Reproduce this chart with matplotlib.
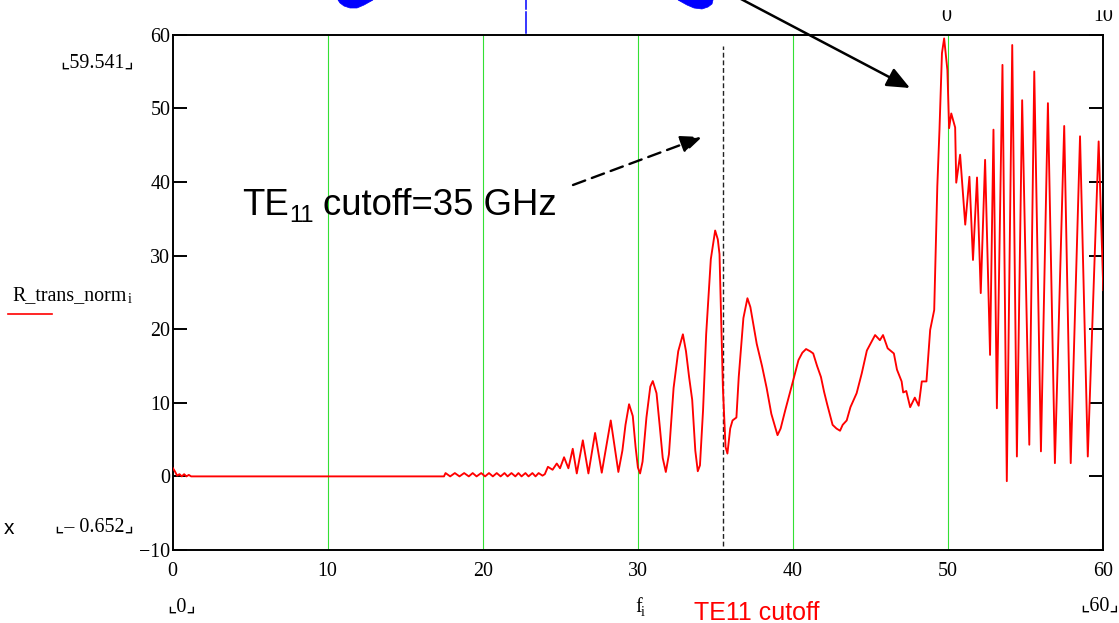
import matplotlib
matplotlib.use("Agg")
import matplotlib.pyplot as plt
from matplotlib.lines import Line2D
from matplotlib.patches import Rectangle, Polygon

W, H = 1119, 623

# frequency (GHz) and normalised transmission
freq = [0.0, 0.15, 0.3, 0.45, 0.6, 0.75, 0.9, 1.05, 1.2, 17.5,
        17.6, 17.9, 18.2, 18.5, 18.8, 19.1, 19.35, 19.6, 19.9, 20.15,
        20.4, 20.65, 20.9, 21.15, 21.4, 21.6, 21.85, 22.1, 22.3, 22.5,
        22.75, 22.95, 23.2, 23.4, 23.6, 23.85,
        24.0, 24.2, 24.5, 24.77, 24.98, 25.24, 25.52, 25.8, 26.06, 26.45,
        26.81, 27.24, 27.67, 28.25, 28.74, 29.0, 29.2, 29.43, 29.67, 29.85,
        30.0, 30.14, 30.3, 30.55, 30.8, 30.96, 31.2, 31.4, 31.6, 31.8,
        32.0, 32.3, 32.6, 32.9, 33.1, 33.3, 33.5, 33.7, 33.86, 34.0,
        34.2, 34.4, 34.7, 34.98, 35.15, 35.26, 35.48, 35.65, 35.77, 35.95,
        36.1, 36.35, 36.5, 36.8, 37.06, 37.25, 37.66, 38.0, 38.3, 38.6,
        39.0, 39.2, 39.5, 39.98, 40.35, 40.6, 40.84, 41.1, 41.3, 41.55,
        41.8, 42.0, 42.2, 42.55, 42.8, 43.03, 43.2, 43.46, 43.7, 44.1,
        44.43, 44.76, 45.29, 45.6, 45.8, 46.1, 46.5, 46.7, 47.0, 47.1,
        47.3, 47.55, 47.85, 48.1, 48.3, 48.6, 48.84, 49.1, 49.3, 49.44,
        49.6, 49.74, 49.95, 50.06, 50.2, 50.45, 50.52, 50.77, 51.1, 51.37,
        51.6, 51.86, 52.1, 52.38, 52.7, 52.92, 53.14, 53.5, 53.78, 54.13,
        54.43, 54.77, 55.23, 55.55, 55.98, 56.43, 56.88, 57.48, 57.9, 58.5,
        59.0, 59.7, 60.0]
r_trans = [1.2, 0.7, 0.1, 0.3, 0.0, 0.3, 0.0, 0.2, 0.0, 0.0,
           0.45, 0.0, 0.45, 0.0, 0.45, 0.0, 0.45, 0.0, 0.45, 0.0,
           0.45, 0.0, 0.45, 0.0, 0.45, 0.0, 0.45, 0.0, 0.45, 0.0,
           0.45, 0.0, 0.45, 0.0, 0.45, 0.1,
           0.3, 1.3, 0.9, 1.75, 1.1, 2.6, 1.1, 3.75, 0.4, 4.9,
           0.4, 5.9, 0.5, 7.6, 0.6, 3.5, 7.0, 9.8, 8.2, 4.0,
           1.2, 0.4, 2.0, 8.0, 12.2, 12.95, 11.3, 7.0, 2.5, 0.6,
           3.0, 12.0, 17.0, 19.3, 17.0, 13.5, 10.4, 3.5, 0.7, 1.5,
           9.0, 19.3, 29.5, 33.4, 32.2, 30.2, 12.0, 4.0, 3.1, 6.5,
           7.6, 8.0, 13.5, 21.5, 24.2, 23.0, 18.0, 15.0, 12.0, 8.5,
           5.6, 6.5, 9.0, 12.8, 15.8, 16.8, 17.3, 17.0, 16.7, 15.0,
           13.5, 11.5, 9.8, 7.0, 6.5, 6.2, 7.0, 7.6, 9.4, 11.3,
           14.0, 17.1, 19.2, 18.5, 19.2, 17.4, 16.7, 14.5, 12.9, 11.4,
           11.6, 9.4, 10.7, 9.6, 12.9, 12.9, 19.9, 22.6, 39.4, 47.1,
           57.5, 59.5, 55.2, 47.3, 49.3, 47.4, 39.9, 43.7, 34.2, 40.7,
           29.4, 40.6, 24.9, 43.0, 16.5, 47.1, 9.25, 55.9, -0.65, 58.6,
           2.7, 51.1, 4.3, 55.0, 3.4, 50.7, 1.8, 47.6, 1.8, 46.2,
           2.7, 45.5, 25.3]

x_ticks = [0, 10, 20, 30, 40, 50, 60]
y_ticks = [-10, 0, 10, 20, 30, 40, 50, 60]
x_grid = [10, 20, 30, 40, 50]
te11_x = 35.5
trace_name = "R_trans_norm"
y_hi_label = "\u231e59.541\u231f"
y_lo_label = "\u231e\u2013 0.652\u231f"
x_lo_label = "\u231e0\u231f"
x_hi_label = "\u231e60\u231f"

SERIF = ["Liberation Serif", "DejaVu Sans"]
SANS = ["Liberation Sans", "DejaVu Sans"]


def fp(px, py):
    # picture pixels (from top-left) -> figure fraction
    return px / W, 1 - py / H


fig = plt.figure(figsize=(W / 100, H / 100), dpi=100)
ax = fig.add_axes([172.5 / W, 1 - 550 / H, (1103.3 - 172.5) / W, (550 - 34.7) / H])

for g in x_grid:
    ax.axvline(g, color="#33e033", lw=0.8, zorder=1)
ax.vlines(te11_x, -9.5, 58.5, colors="#222222", linestyles=(0, (3.5, 2.0)), lw=1.0, zorder=2)
ax.plot(freq, r_trans, color="red", lw=1.35, zorder=3)

ax.set_xlim(0, 60)
ax.set_ylim(-10, 60)
ax.set_xticks(x_ticks)
ax.set_yticks(y_ticks)
ax.tick_params(axis="x", length=0, pad=9, labelsize=14.4)
ax.tick_params(axis="y", direction="in", length=10, width=1.4, left=True, right=True,
               pad=1.5, labelsize=14.4)
for lab in ax.get_xticklabels() + ax.get_yticklabels():
    lab.set_family(SERIF)
for sp in ax.spines.values():
    sp.set_linewidth(1.4)
    sp.set_color("black")

# left side readouts
fig.text(*fp(97, 63), y_hi_label, family=SERIF, fontsize=14.4, ha="center", va="center")
fig.text(*fp(94, 527), y_lo_label, family=SERIF, fontsize=14.4, ha="center", va="center")
fig.text(*fp(9, 528), "x", family=SANS, fontsize=15, ha="center", va="center")
fig.text(*fp(12.7, 300), trace_name, family=SERIF, fontsize=14.4, ha="left", va="baseline")
fig.text(*fp(127.5, 303), "i", family=SERIF, fontsize=10, ha="left", va="baseline")
fig.add_artist(Line2D([8 / W, 52 / W], [1 - 314 / H] * 2, color="red", lw=1.2))

# bottom readouts
fig.text(*fp(182, 607), x_lo_label, family=SERIF, fontsize=14.4, ha="center", va="center")
fig.text(*fp(1100, 606), x_hi_label, family=SERIF, fontsize=14.4, ha="center", va="center")
fig.text(*fp(635, 612), "f", family=SERIF, fontsize=14.4, ha="left", va="baseline")
fig.text(*fp(640.5, 616), "i", family=SERIF, fontsize=10, ha="left", va="baseline")
fig.text(*fp(757, 620), "TE11 cutoff", family=SANS, fontsize=18, color="red",
         ha="center", va="baseline")

# big annotation text
fig.text(*fp(241.7, 215), "TE", family=SANS, fontsize=26.3, ha="left", va="baseline")
fig.text(*fp(289, 222), "11", family=SANS, fontsize=17, ha="left", va="baseline")
fig.text(*fp(323, 215), "cutoff=35 GHz", family=SANS, fontsize=26.3, ha="left", va="baseline")

ax.annotate("", xy=(702, H - 137), xytext=(573, H - 185), xycoords="figure pixels",
            arrowprops=dict(arrowstyle="-|>,head_length=1.3,head_width=0.55", mutation_scale=10,
                            lw=1.7, color="black", linestyle=(0, (5.5, 3.0)),
                            shrinkA=0, shrinkB=0), annotation_clip=False)
ax.annotate("", xy=(910, H - 88), xytext=(722, H + 11), xycoords="figure pixels",
            arrowprops=dict(arrowstyle="-|>,head_length=1.4,head_width=0.6", mutation_scale=10,
                            lw=1.8, color="black", shrinkA=0, shrinkB=0), annotation_clip=False)

# cut-off bits of the sheet above the plot
blob_left = [(338, 0), (340, 3), (344, 6), (350, 8), (357, 8), (364, 5), (373, 0)]
blob_right = [(678, 0), (687, 5), (694, 8), (702, 9), (708, 7), (712, 4), (713, 0)]
for blob in (blob_left, blob_right):
    fig.add_artist(Polygon([fp(px, py) for px, py in blob], closed=True,
                           facecolor="blue", edgecolor="blue", lw=0.5))
fig.add_artist(Line2D([525.7 / W] * 2, [1, 1 - 9 / H], color="blue", lw=1.1))
fig.add_artist(Line2D([525.7 / W] * 2, [1 - 11.5 / H, 1 - 33 / H], color="blue", lw=1.1))
fig.text(*fp(946, 21), "0", family=SERIF, fontsize=14.4, ha="center", va="baseline")
fig.text(*fp(1103, 21), "10", family=SERIF, fontsize=14.4, ha="center", va="baseline")
fig.add_artist(Rectangle((920 / W, 1 - 9 / H), 200 / W, 10 / H, color="white", zorder=10))

fig.savefig("out.png", dpi=100)
